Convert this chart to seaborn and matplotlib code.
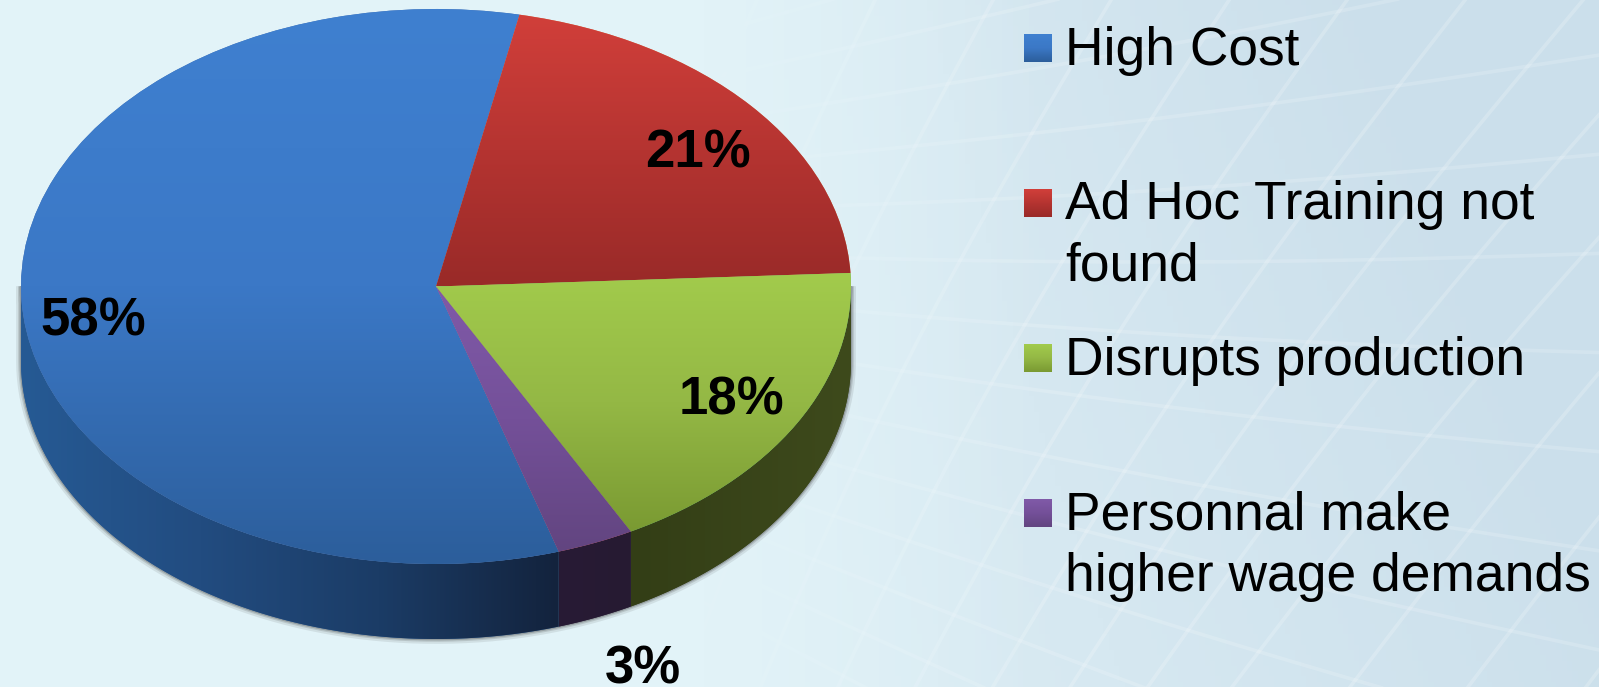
import numpy as np
import matplotlib
matplotlib.use("Agg")
import matplotlib.pyplot as plt
from matplotlib.patches import PathPatch
from matplotlib.path import Path
import seaborn as sns

sns.set_theme(style="white")
plt.rcParams['font.family'] = ['Liberation Sans', 'DejaVu Sans']

# data
categories = ["High Cost", "Ad Hoc Training not\nfound", "Disrupts production",
              "Personnal make\nhigher wage demands"]
shares = [58, 21, 18, 3]

# top face gradient (top -> bottom), same colours used in the legend
face_colors = [["#3f80d0", "#3b78c6", "#2c5e9b"],
               ["#d13f3a", "#b53431", "#992a28"],
               ["#a2cb4c", "#94b845", "#7a9a32"],
               ["#805aa8", "#745099", "#624580"]]
wall_colors = [["#265a94", "#224c80", "#1b3c66", "#13233d"],
               ["#5a1a18", "#5a1a18"],
               ["#333e16", "#3e4a1c"],
               ["#281b35", "#261a32"]]

W, H = 1599, 687
fig = plt.figure(figsize=(W / 100, H / 100), dpi=100)

# ---------------------------------------------------------------- background
bg = fig.add_axes([0, 0, 1, 1], zorder=0)
bg.set_xlim(0, W)
bg.set_ylim(H, 0)
bg.axis("off")

xx, yy = np.meshgrid(np.linspace(0, 1, 300), np.linspace(0, 1, 130))
bg_cmap = sns.blend_palette(["#e6f6fa", "#e0f1f7", "#d6e8f1", "#cbdfeb"], as_cmap=True)
bg.imshow(np.clip(xx * 1.05 - 0.2 * (yy - 0.5) * xx, 0, 1), extent=[0, W, H, 0],
          cmap=bg_cmap, vmin=0, vmax=1, aspect="auto", zorder=0)

# faint warped net on the right side
t = np.linspace(0, 1, 60)
for y0 in np.arange(-60, 760, 62):
    xs = 600 + t * 1050
    ys = y0 + (xs - 1000) * (y0 - 250) * 0.001 + 12 * np.sin(t * 3.0)
    bg.plot(xs, ys, color="white", alpha=0.17, lw=2.6, zorder=1)
for x0 in np.arange(640, 2300, 118):
    ys = t * (H + 20) - 10
    slope = 0.35 + 0.5 * np.clip((x0 - 800) / 1000, 0, 1)
    xs = x0 - slope * ys - 22 * np.sin(t * 3.0)
    bg.plot(xs, ys, color="white", alpha=0.2, lw=2.6, zorder=1)

# fades the net out towards the left
fade = np.zeros((2, 300, 4))
fade[..., :3] = matplotlib.colors.to_rgb("#e2f3f8")
fade[..., 3] = np.clip((0.66 - np.linspace(0, 1, 300)) / 0.22, 0, 1)
bg.imshow(fade, extent=[0, W, H, 0], aspect="auto", zorder=2)
bg.set_xlim(0, W)
bg.set_ylim(H, 0)

# ---------------------------------------------------------------- pie
left, right, top, bottom = 21, 851, 9, 564
depth = 75 / ((bottom - top) / 2)
ax = fig.add_axes([left / W, (H - bottom - 75) / H, (right - left) / W,
                   (bottom + 75 - top) / H], zorder=1)
ax.patch.set_alpha(0)

wedges, _ = ax.pie(shares, startangle=-72.8, counterclock=False, radius=1)
ax.set_aspect("auto")


def wall_path(a1, a2):
    th = np.radians(np.linspace(a1, a2, 200))
    upper = np.column_stack([np.cos(th), np.sin(th)])
    lower = upper[::-1] - [0, depth]
    return Path(np.vstack([upper, lower, upper[:1]]))


# soft shadow round the side wall
whole = wall_path(180, 360)
for lw, a in [(7, 0.10), (4, 0.16), (2, 0.25)]:
    ax.add_patch(PathPatch(whole, fc="none", ec="#333333", lw=lw, alpha=a,
                           zorder=1, clip_on=False))

for w, cols, wcols in zip(wedges, face_colors, wall_colors):
    w.set_zorder(4)
    w.set_edgecolor("none")
    ext = w.get_path().get_extents()
    cmap = sns.blend_palette(cols, as_cmap=True)
    im = ax.imshow(np.linspace(0, 1, 256)[:, None], cmap=cmap,
                   extent=[ext.x0, ext.x1, ext.y0, ext.y1], origin="upper",
                   aspect="auto", zorder=5)
    im.set_clip_path(w)

    # visible part of the side wall
    a1, a2 = w.theta1 % 360, w.theta1 % 360 + (w.theta2 - w.theta1)
    a1, a2 = max(a1, 180), min(a2, 360)
    if a2 > a1:
        patch = PathPatch(wall_path(a1, a2), fc=wcols[0], ec="none", zorder=2)
        ax.add_patch(patch)
        xa, xb = patch.get_path().get_extents().x0, patch.get_path().get_extents().x1
        im2 = ax.imshow(np.linspace(0, 1, 256)[None, :],
                        cmap=sns.blend_palette(wcols, as_cmap=True),
                        extent=[xa, xb, -1 - depth, 0], aspect="auto", zorder=3)
        im2.set_clip_path(patch)

ax.set_xlim(-1, 1)
ax.set_ylim(-1 - depth, 1)

# percent labels
label_pos = [(93, 335), (697.5, 168), (731.5, 414.5), (642.5, 684)]
for v, (px, py) in zip(shares, label_pos):
    ax.text(px, py, f"{v}%", transform=bg.transData, fontsize=38, fontweight="bold",
            color="black", ha="center", va="baseline", zorder=10, clip_on=False)

# ---------------------------------------------------------------- legend
for i, (name, cols) in enumerate(zip(categories, face_colors)):
    y0 = 34 + 155 * i
    bg.imshow(np.linspace(0, 1, 64)[:, None], cmap=sns.blend_palette(cols, as_cmap=True),
              extent=[1024, 1052, y0 + 28, y0], aspect="auto", zorder=3)
    for j, line in enumerate(name.split("\n")):
        bg.text(1065, y0 + 30.5 + 61 * j, line, fontsize=38.4, color="black",
                ha="left", va="baseline", zorder=4)
bg.set_xlim(0, W)
bg.set_ylim(H, 0)

fig.savefig("out.png", dpi=100)
